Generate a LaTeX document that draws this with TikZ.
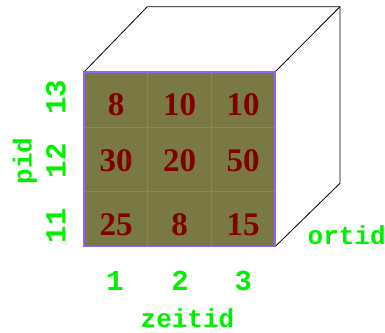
\documentclass[tikz,border=0pt]{standalone}
\usepackage{fontspec}
\setmainfont{Liberation Serif}
\newfontfamily\codefont{Liberation Mono}
\usepackage{xcolor}
\usepackage{tikz}
\usetikzlibrary{calc}

\definecolor{cellfill}{RGB}{123,121,67}
\definecolor{gridcol}{RGB}{145,100,245}
\definecolor{valred}{RGB}{128,0,0}
\definecolor{axgreen}{RGB}{0,240,0}

\begin{document}
\begin{tikzpicture}[x=1bp,y=1bp,
    edge/.style={draw=black, line width=0.8bp},
    cell/.style={draw=gridcol, line width=1.3bp},
    val/.style={anchor=base, text=valred, inner sep=0pt, font=\fontsize{33bp}{33bp}\selectfont\bfseries},
    tick/.style={text=axgreen, inner sep=0pt, font=\codefont\fontsize{29bp}{29bp}\selectfont\bfseries},
    axlbl/.style={text=axgreen, inner sep=0pt, font=\codefont\fontsize{26bp}{26bp}\selectfont\bfseries}]
  \useasboundingbox (0,0) rectangle (385,333);
  % ---------- cube ----------
  \coordinate (fbl) at (84,86.3);
  \coordinate (ftl) at (84,261);
  \coordinate (ftr) at (275,261);
  \coordinate (fbr) at (275,86.3);
  \coordinate (btl) at (147.3,326.3);
  \coordinate (btr) at (340,326.3);
  \coordinate (bbr) at (340,149.7);
  \draw[edge] (ftl) -- (btl) -- (btr) -- (bbr) -- (fbr);
  \draw[edge] (ftr) -- (btr);
  % ---------- front face ----------
  \fill[cellfill] (fbl) rectangle (ftr);
  \foreach \xa/\xb in {84/147.7, 147.7/211.3, 211.3/275}
    \foreach \ya/\yb in {86.3/141.3, 141.3/205.7, 205.7/261}
      \draw[cell] (\xa,\ya) rectangle (\xb,\yb);
  \draw[cell, line width=1.6bp] (fbl) rectangle (ftr);
  % ---------- values ----------
  \node[val] (v13a) at (116,218)   {8};
  \node[val] (v13b) at (179.5,218) {10};
  \node[val] (v13c) at (243,218)   {10};
  \node[val] (v12a) at (116,161.3)   {30};
  \node[val] (v12b) at (179.5,161.3) {20};
  \node[val] (v12c) at (243,161.3)   {50};
  \node[val] (v11a) at (116,98)   {25};
  \node[val] (v11b) at (179.5,98) {8};
  \node[val] (v11c) at (243,98)   {15};
  % ---------- axes ----------
  \node[tick, rotate=90] (p13) at (55.8,235.5) {13};
  \node[tick, rotate=90] (p12) at (55.8,172.2) {12};
  \node[tick, rotate=90] (p11) at (55.8,107.2) {11};
  \node[axlbl, rotate=90] (pid) at (25,172.2) {pid};
  \node[tick] (z1) at (115,52.2)   {1};
  \node[tick] (z2) at (180,52.2)   {2};
  \node[tick] (z3) at (243.3,52.2) {3};
  \node[axlbl] (zeitid) at (187.5,15) {zeitid};
  \node[axlbl] (ortid)  at (346.7,98) {ortid};
\end{tikzpicture}
\end{document}
